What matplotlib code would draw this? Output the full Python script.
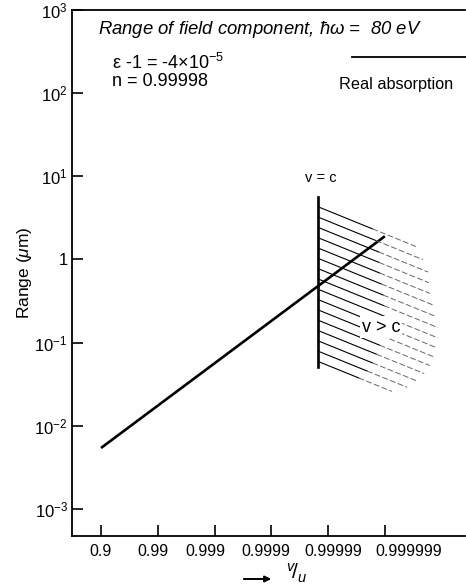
import matplotlib.pyplot as plt
import matplotlib.transforms as mtransforms
import numpy as np
from matplotlib.ticker import NullLocator

# ---------------- data ----------------
vu_ticks = [0.9, 0.99, 0.999, 0.9999, 0.99999, 0.999999]
vu_labels = ['0.9', '0.99', '0.999', '0.9999', '0.99999', '0.999999']
range_ticks = [1e-3, 1e-2, 1e-1, 1, 1e1, 1e2, 1e3]
range_labels = ['10$^{-3}$', '10$^{-2}$', '10$^{-1}$', '1', '10$^{1}$', '10$^{2}$', '10$^{3}$']

# range of the field component vs v/u
line_vu = [0.9, 0.999999]
line_range = [5.4e-3, 1.9]

# v = c boundary
vc_vu = 0.999985
vc_range = [0.051, 5.6]

# hatching of the v > c region: lengths in decades of (1 - v/u)
hatch_top = 4.3        # range (um) where first hatch line starts
hatch_step = 0.124     # decades between hatch lines
hatch_slope = -0.277   # decades of range per decade of (1 - v/u)
hatch_len = [1.74, 1.85, 1.94, 1.95, 1.97, 2.02, 2.08, 2.11,
             2.11, 2.10, 2.04, 1.97, 1.87, 1.74, 1.57, 1.30]

# hand lettered x labels sit a bit off their ticks (pixels)
xlabel_shift = [-1, -5, -9, -5, 5, 24]


def fwd(x):
    return -np.log10(1 - np.asarray(x, dtype=float))


def inv(t):
    return 1 - 10 ** (-np.asarray(t, dtype=float))


plt.rcParams['font.family'] = 'Liberation Sans'
plt.rcParams['mathtext.fontset'] = 'custom'
plt.rcParams['mathtext.rm'] = 'Liberation Sans'
plt.rcParams['mathtext.it'] = 'Liberation Sans:italic'
plt.rcParams['mathtext.bf'] = 'Liberation Sans:bold'

fig = plt.figure(figsize=(4.66, 5.87), dpi=100)
ax = fig.add_axes([0.1545, 0.087, 0.843, 0.896])

ax.set_xscale('function', functions=(fwd, inv))
ax.set_yscale('log')
ax.set_xlim(inv(0.489), inv(7.41))
ax.set_ylim(10 ** -3.325, 1e3)

# main curve
ax.plot(line_vu, line_range, color='black', lw=1.9, solid_capstyle='butt')

# v = c line
ax.plot([vc_vu, vc_vu], vc_range, color='black', lw=1.9)

# hatching
t0 = fwd(vc_vu)
for i, L in enumerate(hatch_len):
    y0 = np.log10(hatch_top) - i * hatch_step
    tm = t0 + 0.55 * L
    t1 = t0 + L
    ym = y0 + hatch_slope * 0.55 * L
    y1 = y0 + hatch_slope * L
    ax.plot(inv([t0, tm]), [10 ** y0, 10 ** ym], color='black', lw=0.8)
    ax.plot(inv([tm, t1]), [10 ** ym, 10 ** y1], color='0.4', lw=0.7,
            dashes=(6, 2.5))

# spines and ticks
ax.spines['right'].set_visible(False)
for s in ['left', 'bottom', 'top']:
    ax.spines[s].set_linewidth(1.3)
ax.set_xticks(vu_ticks)
ax.set_xticklabels(vu_labels)
ax.set_yticks(range_ticks)
ax.set_yticklabels(range_labels)
ax.xaxis.set_minor_locator(NullLocator())
ax.yaxis.set_minor_locator(NullLocator())
ax.tick_params(direction='in', length=8, width=1.2, labelsize=11.5, pad=4)
ax.tick_params(axis='x', pad=6)
ax.tick_params(axis='y', labelsize=12, pad=3)

for lab, dx in zip(ax.get_xticklabels(), xlabel_shift):
    lab.set_transform(lab.get_transform() +
                      mtransforms.ScaledTranslation(dx / 100, 0, fig.dpi_scale_trans))

ax.set_ylabel('Range ($\\mu$m)', fontsize=12.5, labelpad=0)

# text annotations (figure pixel coords converted)
def fx(px):
    return px / 466


def fy(py):
    return 1 - py / 587


fig.text(fx(98), fy(30), 'Range of field component, $\\hbar\\omega$ =  80 eV',
         fontsize=13.3, style='italic', va='center', ha='left')
fig.text(fx(112), fy(63), 'ε -1 = -4×10$^{-5}$',
         fontsize=13, va='center', ha='left')
fig.text(fx(112), fy(81), 'n = 0.99998', fontsize=13, va='center', ha='left')
fig.text(fx(339), fy(84), 'Real absorption', fontsize=11.7, va='center',
         ha='left')
fig.add_artist(plt.Line2D([fx(352), fx(466)], [fy(57), fy(57)],
                          color='black', lw=1.3))
fig.text(fx(321), fy(178), 'v = c', fontsize=10.5, va='center', ha='center')
fig.text(fx(381), fy(327), 'v > c', fontsize=13, va='center', ha='center',
         bbox=dict(facecolor='white', edgecolor='none', pad=1.5))

# x label: arrow and v/u
ax.annotate('', xy=(fx(274), fy(579)), xytext=(fx(241), fy(579)),
            xycoords='figure fraction',
            arrowprops=dict(arrowstyle='-|>', color='black', lw=1.4,
                            mutation_scale=9))
fig.text(fx(286), fy(573), '$^{v}\\!/_{u}$', fontsize=15, va='center',
         ha='left')

fig.savefig('out.png', dpi=100)
